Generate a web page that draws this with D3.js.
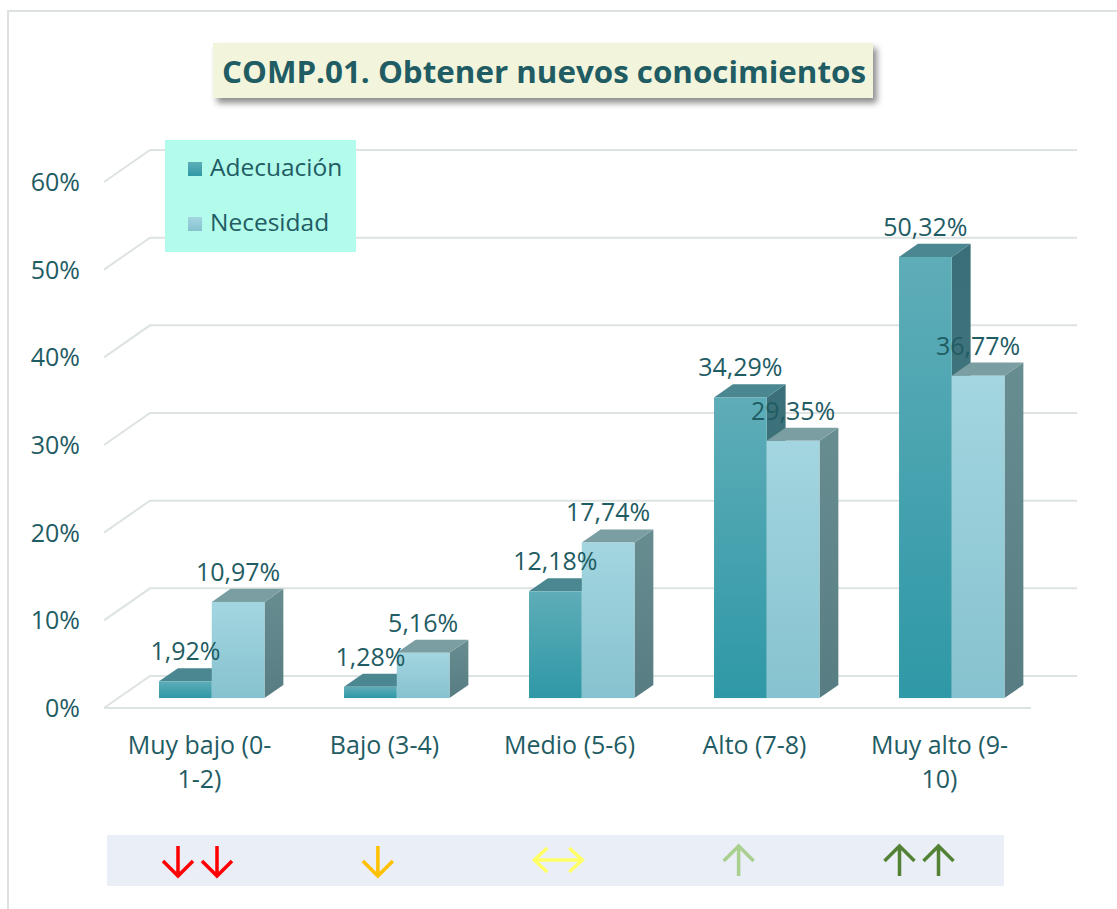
<!DOCTYPE html>
<html>
<head>
<meta charset="utf-8">
<script src="https://cdn.jsdelivr.net/npm/d3@7"></script>
<style>
  body { margin: 0; background: #fff; }
  svg { display: block; }
  text { font-family: "Open Sans", sans-serif; }
</style>
</head>
<body>
<div id="chart"></div>
<script>
const categories = ["Muy bajo (0-1-2)", "Bajo (3-4)", "Medio (5-6)", "Alto (7-8)", "Muy alto (9-10)"];
const categoryLines = [["Muy bajo (0-", "1-2)"], ["Bajo (3-4)"], ["Medio (5-6)"], ["Alto (7-8)"], ["Muy alto (9-", "10)"]];
const series = ["Adecuación", "Necesidad"];
const adecuacion = [1.92, 1.28, 12.18, 34.29, 50.32];
const necesidad = [10.97, 5.16, 17.74, 29.35, 36.77];
const yTicks = [0, 10, 20, 30, 40, 50, 60];
const trendSymbols = ["down2", "down", "both", "up", "up2"];
const trendColors = ["#ff0000", "#ffc000", "#ffff66", "#a9d08e", "#548235"];
const title = "COMP.01. Obtener nuevos conocimientos";

const textColor = "#1f5c63";
const W = 1117, H = 909;

const svg = d3.select("#chart").append("svg")
  .attr("width", W).attr("height", H);

const defs = svg.append("defs");
function vGrad(id, top, bottom) {
  const g = defs.append("linearGradient").attr("id", id)
    .attr("x1", 0).attr("y1", 0).attr("x2", 0).attr("y2", 1);
  g.append("stop").attr("offset", "0%").attr("stop-color", top);
  g.append("stop").attr("offset", "100%").attr("stop-color", bottom);
}
vGrad("frontA", "#5eadb8", "#2f98a6");
vGrad("frontN", "#a3d6e0", "#86c2cf");
vGrad("sideA", "#3b6f77", "#4a7e86");
vGrad("sideN", "#688d91", "#577c82");
const faceColors = {
  "Adecuación": { front: "url(#frontA)", top: "#4a8790", side: "url(#sideA)" },
  "Necesidad": { front: "url(#frontN)", top: "#7b9ea2", side: "url(#sideN)" }
};

const shadow = defs.append("filter").attr("id", "shadow")
  .attr("x", "-5%").attr("y", "-20%").attr("width", "115%").attr("height", "160%");
shadow.append("feDropShadow").attr("dx", 4).attr("dy", 5)
  .attr("stdDeviation", 3).attr("flood-color", "#000").attr("flood-opacity", 0.45);

// outer border
svg.append("rect").attr("x", 8).attr("y", 11).attr("width", W).attr("height", H)
  .attr("fill", "none").attr("stroke", "#dbe2e0").attr("stroke-width", 2);

// scales (front plane) + depth projection
const x = d3.scaleBand().domain(categories).range([105, 1030]);
const xs = d3.scaleBand().domain(series).range([0, x.bandwidth()]).paddingOuter(0.754);
const y = d3.scaleLinear().domain([0, 60]).range([708, 182]);
const depthX = 46, depthY = 32;
const P = (px, v, z) => [px + z * depthX, y(v) - z * depthY];
const z1 = 0.31, z2 = 0.72;

// grid: left wall diagonals + back wall lines
const grid = svg.append("g").attr("fill", "none").attr("stroke", "#dde3e2").attr("stroke-width", 2);
yTicks.forEach(v => {
  const a = P(104, v, 0), b = P(104, v, 1);
  grid.append("path").attr("d", `M${a[0]},${a[1]}L${b[0]},${b[1]}H1077`);
});
grid.append("path").attr("d", `M104,${y(0)}H1031`);

// y tick labels
svg.append("g").selectAll("text").data(yTicks).join("text")
  .attr("x", 80).attr("y", d => y(d) + 9)
  .attr("text-anchor", "end").attr("font-size", 25).attr("fill", textColor)
  .text(d => d + "%");

// bars
const rows = [];
categories.forEach((c, i) => {
  rows.push({ c, s: series[0], v: adecuacion[i] });
  rows.push({ c, s: series[1], v: necesidad[i] });
});
const pts = arr => arr.map(p => p.join(",")).join(" ");
const bars = svg.append("g").selectAll("g").data(rows).join("g");
bars.each(function (d) {
  const g = d3.select(this);
  const x0 = x(d.c) + xs(d.s), x1 = x0 + xs.bandwidth();
  const col = faceColors[d.s];
  g.append("polygon").attr("fill", col.side)
    .attr("points", pts([P(x1, d.v, z1), P(x1, d.v, z2), P(x1, 0, z2), P(x1, 0, z1)]));
  g.append("polygon").attr("fill", col.top)
    .attr("points", pts([P(x0, d.v, z1), P(x1, d.v, z1), P(x1, d.v, z2), P(x0, d.v, z2)]));
  const tl = P(x0, d.v, z1), br = P(x1, 0, z1);
  g.append("rect").attr("x", tl[0]).attr("y", tl[1])
    .attr("width", br[0] - tl[0]).attr("height", br[1] - tl[1]).attr("fill", col.front);
});

// data labels
svg.append("g").selectAll("text").data(rows).join("text")
  .attr("x", d => P(x(d.c) + xs(d.s) + xs.bandwidth() / 2, d.v, z1)[0])
  .attr("y", d => P(0, d.v, z2)[1] - 8)
  .attr("text-anchor", "middle").attr("font-size", 25).attr("fill", textColor)
  .text(d => d.v.toFixed(2).replace(".", ",") + "%");

// category labels
const catG = svg.append("g").selectAll("text").data(categories).join("text")
  .attr("text-anchor", "middle").attr("font-size", 25).attr("fill", textColor);
catG.each(function (d, i) {
  const cx = x(d) + x.bandwidth() / 2 + 2;
  categoryLines[i].forEach((line, k) => {
    d3.select(this).append("tspan").attr("x", cx).attr("y", 754 + k * 34).text(line);
  });
});

// title box
svg.append("rect").attr("x", 213).attr("y", 43).attr("width", 660).attr("height", 55)
  .attr("fill", "#f2f5dc").attr("filter", "url(#shadow)");
svg.append("text").attr("x", 544).attr("y", 83)
  .attr("text-anchor", "middle").attr("font-size", 30).attr("font-weight", "bold")
  .attr("textLength", 644).attr("lengthAdjust", "spacingAndGlyphs")
  .attr("fill", textColor).text(title);

// legend
const legend = svg.append("g");
legend.append("rect").attr("x", 165).attr("y", 140).attr("width", 191).attr("height", 112)
  .attr("fill", "#b3fbeb");
series.forEach((s, i) => {
  legend.append("rect").attr("x", 188).attr("y", 162 + i * 55).attr("width", 14).attr("height", 14)
    .attr("fill", faceColors[s].front);
  legend.append("text").attr("x", 210).attr("y", 176 + i * 55)
    .attr("font-size", 24.5).attr("fill", textColor).text(s);
});

// trend strip with arrows
svg.append("rect").attr("x", 107).attr("y", 835).attr("width", 897).attr("height", 51)
  .attr("fill", "#eaeef7");
const ax = d3.scalePoint().domain(categories).range([197.5, 919]);
const arrowG = svg.append("g").attr("fill", "none").attr("stroke-width", 3.5)
  .attr("stroke-linecap", "butt").attr("stroke-linejoin", "miter");
function vArrow(cx, up) {
  const t = 846, b = 876, h = 15;
  return up
    ? `M${cx},${b}V${t}M${cx - h},${t + h}L${cx},${t}L${cx + h},${t + h}`
    : `M${cx},${t}V${b}M${cx - h},${b - h}L${cx},${b}L${cx + h},${b - h}`;
}
categories.forEach((c, i) => {
  const cx = ax(c), sym = trendSymbols[i];
  let d = "";
  if (sym === "down2") d = vArrow(cx - 19.5, false) + vArrow(cx + 19.5, false);
  if (sym === "down") d = vArrow(cx, false);
  if (sym === "up") d = vArrow(cx, true);
  if (sym === "up2") d = vArrow(cx - 19.5, true) + vArrow(cx + 19.5, true);
  if (sym === "both") {
    const l = cx - 24, r = cx + 24, m = 860;
    d = `M${l},${m}H${r}M${l + 13},${m - 12}L${l},${m}L${l + 13},${m + 12}M${r - 13},${m - 12}L${r},${m}L${r - 13},${m + 12}`;
  }
  arrowG.append("path").attr("d", d).attr("stroke", trendColors[i]);
});
</script>
</body>
</html>
